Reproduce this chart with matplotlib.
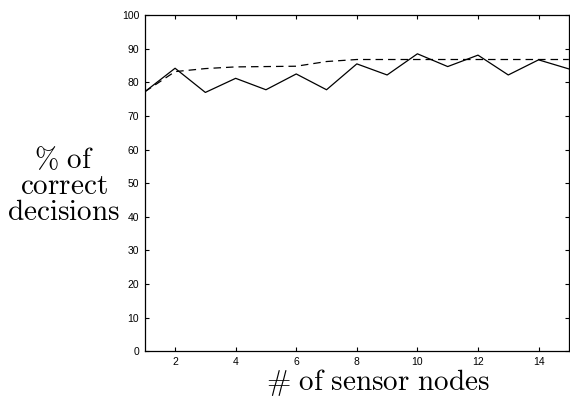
import matplotlib
matplotlib.use("Agg")
import matplotlib.pyplot as plt

nodes = list(range(1, 16))
single = [77.2, 84.2, 77.0, 81.2, 77.8, 82.5, 77.8, 85.5, 82.2, 88.5, 84.7, 88.1, 82.2, 86.7, 84.0]
combined = [77.2, 83.2, 84.1, 84.6, 84.7, 84.8, 86.2, 86.8, 86.8, 86.8, 86.8, 86.8, 86.8, 86.8, 86.8]
xticks = [2, 4, 6, 8, 10, 12, 14]
yticks = [0, 10, 20, 30, 40, 50, 60, 70, 80, 90, 100]

plt.rcParams['mathtext.fontset'] = 'cm'
plt.rcParams['font.family'] = ['Liberation Sans', 'DejaVu Sans']

fig = plt.figure(figsize=(5.7, 3.99), dpi=100)
ax = fig.add_axes([0.254, 0.120, 0.744, 0.842])
ax.plot(nodes, single, color='black', linewidth=0.9, linestyle='-')
ax.plot(nodes, combined, color='black', linewidth=0.9, linestyle=(0, (6, 4)))
ax.set_xlim(1, 15)
ax.set_ylim(0, 100)
ax.set_xticks(xticks)
ax.set_yticks(yticks)
ax.tick_params(direction='in', length=3, width=0.8, labelsize=7.5, top=True, right=True, pad=4)
for s in ax.spines.values():
    s.set_linewidth(0.9)

ax.set_xlabel(r'$\mathrm{\#\ of\ sensor\ nodes}$', fontsize=21, labelpad=1)
ax.xaxis.set_label_coords(0.551, -0.048, transform=ax.transAxes)
ax.xaxis.label.set_va('top')
fig.text(0.112, 0.579, r'$\mathrm{\%\ of}$', fontsize=21, ha='center', va='baseline')
fig.text(0.112, 0.514, r'$\mathrm{correct}$', fontsize=21, ha='center', va='baseline')
fig.text(0.112, 0.449, r'$\mathrm{decisions}$', fontsize=21, ha='center', va='baseline')

fig.savefig('out.png', dpi=100)
